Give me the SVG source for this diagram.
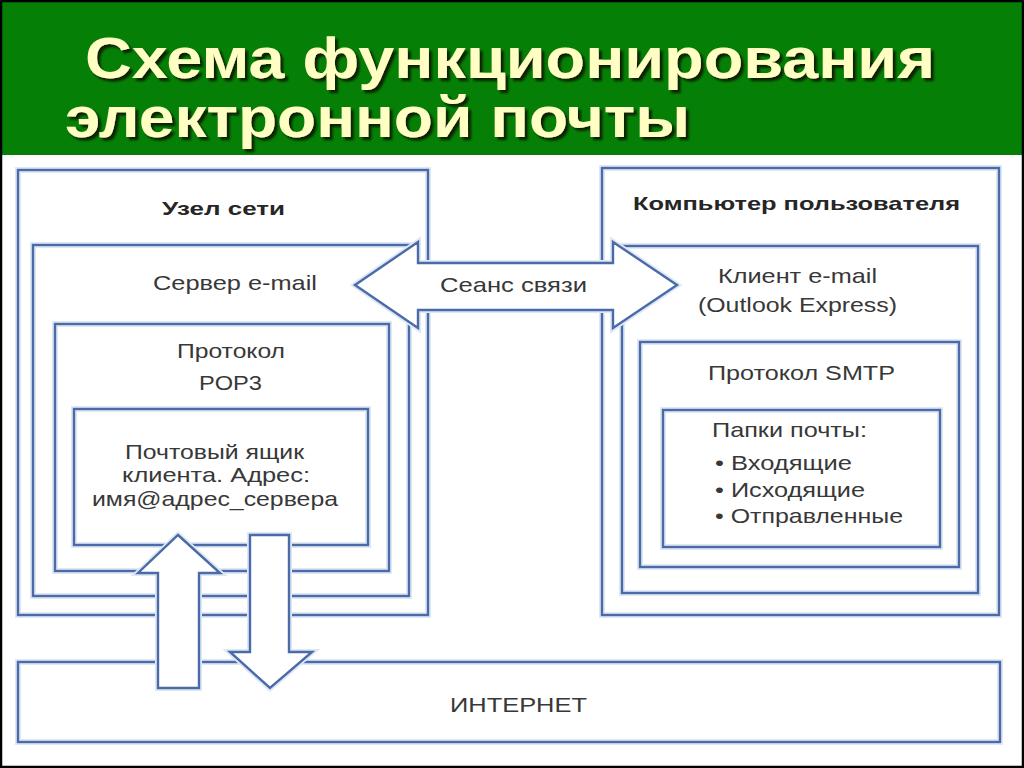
<svg xmlns="http://www.w3.org/2000/svg" width="1024" height="768" viewBox="0 0 1024 768">
  <defs>
    <filter id="shadow" x="-5%" y="-20%" width="110%" height="150%">
      <feDropShadow dx="3" dy="3" stdDeviation="0.8" flood-color="#0d2206" flood-opacity="1"/>
    </filter>
    <style>
      .halo{fill:none;stroke:#dfe8f5;stroke-width:6}
      .bx{fill:none;stroke:#4a6aa8;stroke-width:2.4}
      .arr{fill:#ffffff;stroke:#4a6aa8;stroke-width:2.4;stroke-linejoin:miter}
      .arrh{fill:none;stroke:#dfe8f5;stroke-width:6;stroke-linejoin:miter}
      .t{font-family:"Liberation Sans",Arial,sans-serif;font-size:21px;fill:#383838}
      .tb{font-family:"Liberation Sans",Arial,sans-serif;font-size:19px;font-weight:bold;fill:#262626}
      .title{font-family:"Liberation Sans Narrow","Liberation Sans",Arial,sans-serif;font-size:58px;font-weight:bold;font-stretch:condensed;fill:#ffffc4}
    </style>
  </defs>
  <rect x="0" y="0" width="1024" height="768" fill="#ffffff"/>
  <g id="header">
    <rect x="0" y="0" width="1024" height="155" fill="#057f05"/>
    <g filter="url(#shadow)">
      <text class="title" x="85" y="78" textLength="850" lengthAdjust="spacingAndGlyphs">Схема функционирования</text>
      <text class="title" x="65" y="137" textLength="625" lengthAdjust="spacingAndGlyphs">электронной почты</text>
    </g>
  </g>

  <g id="node-uzel">
    <rect class="halo" x="18" y="170" width="410" height="445"/>
    <rect class="bx" x="18" y="170" width="410" height="445"/>
    <text class="tb" x="162" y="215" textLength="123" lengthAdjust="spacingAndGlyphs">Узел сети</text>
  </g>
  <g id="node-server">
    <rect class="halo" x="33" y="245" width="376" height="351"/>
    <rect class="bx" x="33" y="245" width="376" height="351"/>
    <text class="t" x="153" y="290" textLength="164" lengthAdjust="spacingAndGlyphs">Сервер e-mail</text>
  </g>
  <g id="node-pop3">
    <rect class="halo" x="55" y="324" width="334" height="247"/>
    <rect class="bx" x="55" y="324" width="334" height="247"/>
    <text class="t" x="177" y="358" textLength="108" lengthAdjust="spacingAndGlyphs">Протокол</text>
    <text class="t" x="199" y="390" textLength="63" lengthAdjust="spacingAndGlyphs">POP3</text>
  </g>
  <g id="node-mailbox">
    <rect class="halo" x="74" y="409" width="294" height="136"/>
    <rect class="bx" x="74" y="409" width="294" height="136"/>
    <text class="t" x="125" y="459" textLength="179" lengthAdjust="spacingAndGlyphs">Почтовый ящик</text>
    <text class="t" x="122" y="482" textLength="188" lengthAdjust="spacingAndGlyphs">клиента. Адрес:</text>
    <text class="t" x="92" y="506" textLength="246" lengthAdjust="spacingAndGlyphs">имя@адрес_сервера</text>
  </g>

  <g id="node-pc">
    <rect class="halo" x="602" y="168" width="397" height="447"/>
    <rect class="bx" x="602" y="168" width="397" height="447"/>
    <text class="tb" x="633" y="210" textLength="327" lengthAdjust="spacingAndGlyphs">Компьютер пользователя</text>
  </g>
  <g id="node-client">
    <rect class="halo" x="622" y="246" width="356" height="347"/>
    <rect class="bx" x="622" y="246" width="356" height="347"/>
    <text class="t" x="718" y="283" textLength="159" lengthAdjust="spacingAndGlyphs">Клиент e-mail</text>
    <text class="t" x="698" y="312" textLength="199" lengthAdjust="spacingAndGlyphs">(Outlook Express)</text>
  </g>
  <g id="node-smtp">
    <rect class="halo" x="640" y="342" width="319" height="225"/>
    <rect class="bx" x="640" y="342" width="319" height="225"/>
    <text class="t" x="708" y="380" textLength="187" lengthAdjust="spacingAndGlyphs">Протокол SMTP</text>
  </g>
  <g id="node-folders">
    <rect class="halo" x="663" y="410" width="277" height="137"/>
    <rect class="bx" x="663" y="410" width="277" height="137"/>
    <text class="t" x="712" y="437" textLength="155" lengthAdjust="spacingAndGlyphs">Папки почты:</text>
    <text class="t" x="715" y="470" textLength="137" lengthAdjust="spacingAndGlyphs">• Входящие</text>
    <text class="t" x="715" y="497" textLength="150" lengthAdjust="spacingAndGlyphs">• Исходящие</text>
    <text class="t" x="715" y="523" textLength="188" lengthAdjust="spacingAndGlyphs">• Отправленные</text>
  </g>

  <g id="node-internet">
    <rect class="halo" x="18" y="662" width="982" height="80"/>
    <rect class="bx" x="18" y="662" width="982" height="80"/>
    <text class="t" x="450" y="712" textLength="137" lengthAdjust="spacingAndGlyphs">ИНТЕРНЕТ</text>
  </g>

  <g id="connectors">
    <path class="arrh" d="M355,285 L418,242 L418,263 L613,263 L613,242 L677,285 L613,328 L613,310 L418,310 L418,328 Z"/>
    <path class="arr" d="M355,285 L418,242 L418,263 L613,263 L613,242 L677,285 L613,328 L613,310 L418,310 L418,328 Z"/>
    <path class="arrh" d="M178,535 L220,573 L199,573 L199,688 L158,688 L158,573 L138,573 Z"/>
    <path class="arr" d="M178,535 L220,573 L199,573 L199,688 L158,688 L158,573 L138,573 Z"/>
    <path class="arrh" d="M250,535 L289,535 L289,652 L312,652 L270,688 L230,652 L250,652 Z"/>
    <path class="arr" d="M250,535 L289,535 L289,652 L312,652 L270,688 L230,652 L250,652 Z"/>
    <text class="t" x="440" y="292" textLength="147" lengthAdjust="spacingAndGlyphs">Сеанс связи</text>
  </g>

  <rect x="1" y="1" width="1022" height="766" fill="none" stroke="#000000" stroke-width="2.5"/>
</svg>
